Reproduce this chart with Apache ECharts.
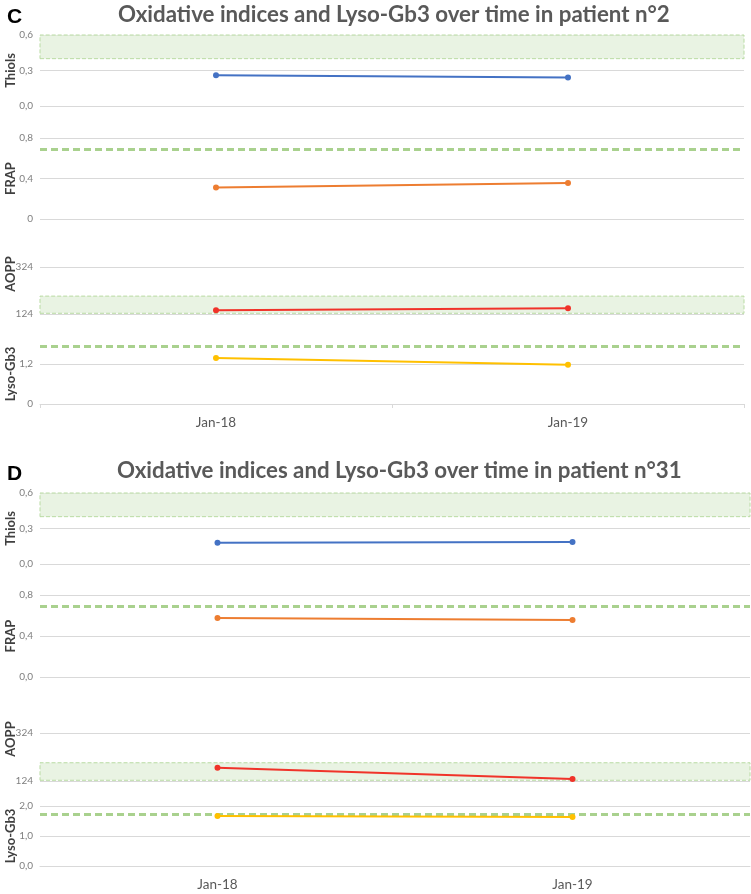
<!DOCTYPE html>
<html><head><meta charset="utf-8">
<script src="https://cdn.jsdelivr.net/npm/echarts@6/dist/echarts.min.js"></script>
<style>html,body{margin:0;padding:0;background:#fff}#c{width:751px;height:894px}</style>
</head><body><div id="c"></div>
<script>
const categories = ['Jan-18', 'Jan-19'];
const panelLetters = ['C', 'D'];
const panelTitles = ['Oxidative indices and Lyso-Gb3 over time in patient n°2', 'Oxidative indices and Lyso-Gb3 over time in patient n°31'];
const indexNames = ['Thiols', 'FRAP', 'AOPP', 'Lyso-Gb3'];
// Panel C values
const thiolsC = [0.26, 0.24];
const frapC = [0.31, 0.355];
const aoppC = [140, 148];
const lysoC = [1.38, 1.18];
// Panel D values
const thiolsD = [0.18, 0.185];
const frapD = [0.575, 0.555];
const aoppD = [179, 132];
const lysoD = [1.67, 1.63];
// reference ranges
const thiolsRange = [0.4, 0.6];
const aoppRange = [127, 200];
const frapRef = 0.69;
const lysoRefC = 1.74;
const lysoRefD = 1.72;
// tick labels (from axis min upward)
const thiolsTicks = ['0,0', '0,3', '0,6'];
const frapTicksC = ['0', '0,4', '0,8'];
const frapTicksD = ['0,0', '0,4', '0,8'];
const aoppTicks = ['124', '324'];
const lysoTicksC = ['0', '1,2'];
const lysoTicksD = ['0,0', '1,0', '2,0'];

const colors = ['#4472c4', '#ed7d31', '#f0332a', '#ffc000'];
const gridColor = '#d9d9d9';

const subs = [
  {top: 35, bot: 106, min: 0, max: 0.6, interval: 0.3, ticks: thiolsTicks, data: thiolsC, right: 7, band: thiolsRange},
  {top: 138, bot: 219, min: 0, max: 0.8, interval: 0.4, ticks: frapTicksC, data: frapC, right: 7, ref: frapRef},
  {top: 234, bot: 314, min: 124, max: 464, interval: 200, ticks: aoppTicks, data: aoppC, right: 7, band: aoppRange},
  {top: 344, bot: 404, min: 0, max: 1.8, interval: 1.2, ticks: lysoTicksC, data: lysoC, right: 7, ref: lysoRefC, xlabels: true},
  {top: 493, bot: 564, min: 0, max: 0.6, interval: 0.3, ticks: thiolsTicks, data: thiolsD, right: 1, band: thiolsRange},
  {top: 595, bot: 677, min: 0, max: 0.8, interval: 0.4, ticks: frapTicksD, data: frapD, right: 1, ref: frapRef},
  {top: 697, bot: 781, min: 124, max: 474, interval: 200, ticks: aoppTicks, data: aoppD, right: 1, band: aoppRange},
  {top: 806, bot: 866, min: 0, max: 2.0, interval: 1.0, ticks: lysoTicksD, data: lysoD, right: 1, ref: lysoRefD, xlabels: true, noTicks: true}
];

const grids = [], xAxes = [], yAxes = [], series = [];
subs.forEach((s, i) => {
  grids.push({left: 40, right: s.right, top: s.top, height: s.bot - s.top, containLabel: false, outerBoundsMode: 'none'});
  const nTicks = s.ticks.length;
  const lineColors = [];
  for (let k = 0; k < nTicks; k++) lineColors.push(gridColor);
  lineColors.push('rgba(0,0,0,0)');
  xAxes.push({
    type: 'category', gridIndex: i, data: categories, boundaryGap: true,
    show: !!s.xlabels,
    axisLine: {show: true, lineStyle: {color: gridColor}},
    axisTick: {show: !s.noTicks, length: 4, lineStyle: {color: gridColor}},
    axisLabel: {show: true, color: '#595959', fontSize: 13.5, margin: 12, fontFamily: 'Lato'}
  });
  yAxes.push({
    type: 'value', gridIndex: i, min: s.min, max: s.max, interval: s.interval,
    name: indexNames[i % 4], nameLocation: 'middle', nameGap: 23, nameRotate: 90, nameMoveOverlap: false,
    nameTextStyle: {color: '#404040', fontSize: 13, fontWeight: 'bold', fontFamily: 'Lato'},
    axisLine: {show: false}, axisTick: {show: false},
    axisLabel: {color: '#7f7f7f', fontSize: 10, margin: 7, fontFamily: 'Lato',
      formatter: (v, idx) => { const t = s.ticks[idx]; return t === undefined ? '' : t; }},
    splitLine: {show: true, lineStyle: {color: lineColors, width: 1}}
  });
  const ser = {
    type: 'line', xAxisIndex: i, yAxisIndex: i, data: s.data,
    symbol: 'circle', symbolSize: 6, lineStyle: {width: 2, color: colors[i % 4]},
    itemStyle: {color: colors[i % 4]}, silent: true, z: 5
  };
  if (s.band) {
    ser.markArea = {silent: true, itemStyle: {color: 'rgba(226,239,218,0.75)', borderColor: '#b9dba3', borderType: 'dashed', borderWidth: 1},
      data: [[{yAxis: s.band[0]}, {yAxis: s.band[1]}]]};
  }
  if (s.ref !== undefined) {
    ser.markLine = {silent: true, symbol: 'none', label: {show: false},
      lineStyle: {color: '#a9d18e', width: 3, type: [7, 4]},
      data: [{yAxis: s.ref}]};
  }
  series.push(ser);
});

const titles = [
  {text: panelLetters[0], left: 2, top: 2, textStyle: {fontSize: 21, fontWeight: 'bold', color: '#000', fontFamily: 'Liberation Sans'}},
  {text: panelTitles[0], left: 113, top: -1, textStyle: {fontSize: 22.3, fontWeight: 'bold', color: '#595959', fontFamily: 'Lato'}},
  {text: panelLetters[1], left: 2, top: 459, textStyle: {fontSize: 21, fontWeight: 'bold', color: '#000', fontFamily: 'Liberation Sans'}},
  {text: panelTitles[1], left: 112, top: 455, textStyle: {fontSize: 22.3, fontWeight: 'bold', color: '#595959', fontFamily: 'Lato'}}
];

const chart = echarts.init(document.getElementById('c'), null, {renderer: 'canvas'});
chart.setOption({
  animation: false, backgroundColor: '#fff',
  title: titles, grid: grids, xAxis: xAxes, yAxis: yAxes, series: series
});
</script></body></html>
